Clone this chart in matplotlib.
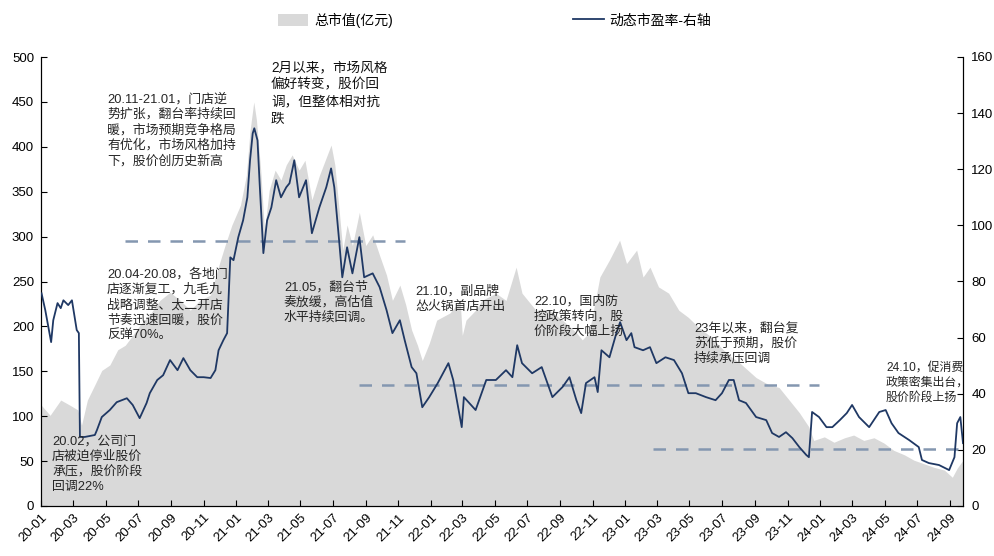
import matplotlib
matplotlib.use("Agg")
import matplotlib.pyplot as plt
import pandas as pd
from matplotlib.patches import Patch
from matplotlib.lines import Line2D

plt.rcParams['font.family'] = ['Liberation Sans', 'Noto Sans CJK SC', 'DejaVu Sans']
plt.rcParams['axes.unicode_minus'] = False

# ---- market cap (left axis, 亿元) ----
cap_dates = ["2020-01-02","2020-01-18","2020-02-07","2020-02-25","2020-03-10","2020-03-17","2020-03-28",
    "2020-04-11","2020-04-24","2020-05-09","2020-05-24","2020-06-07","2020-06-21","2020-07-04","2020-07-23",
    "2020-08-11","2020-08-30","2020-09-18","2020-10-07","2020-10-25","2020-11-14","2020-11-27","2020-12-11",
    "2020-12-24","2021-01-09","2021-01-20","2021-01-27","2021-02-03","2021-02-08","2021-02-16","2021-02-23",
    "2021-03-04","2021-03-15","2021-03-26","2021-04-05","2021-04-16","2021-04-29","2021-05-10","2021-05-23",
    "2021-06-06","2021-06-17","2021-06-28","2021-07-05","2021-07-13","2021-07-20","2021-07-28","2021-08-07",
    "2021-08-20","2021-09-01","2021-09-14","2021-09-27","2021-10-10","2021-10-21","2021-11-04","2021-11-15",
    "2021-11-26","2021-12-07","2021-12-16","2021-12-29","2022-01-12","2022-02-06","2022-02-25","2022-03-01",
    "2022-03-08","2022-03-26","2022-04-07","2022-05-03","2022-05-22","2022-06-10","2022-06-21","2022-07-17",
    "2022-08-11","2022-09-05","2022-10-01","2022-10-12","2022-10-25","2022-11-14","2022-12-02","2022-12-21",
    "2023-01-03","2023-01-22","2023-02-03","2023-02-16","2023-03-04","2023-03-23","2023-04-11","2023-04-29",
    "2023-05-18","2023-06-07","2023-06-25","2023-07-14","2023-08-02","2023-09-03","2023-09-27","2023-10-16",
    "2023-11-04","2023-11-23","2023-12-11","2023-12-20","2024-01-09","2024-01-27","2024-02-16","2024-03-04",
    "2024-03-23","2024-04-11","2024-04-30","2024-05-18","2024-06-07","2024-06-25","2024-07-14","2024-08-02",
    "2024-08-21","2024-09-05","2024-09-14","2024-09-25"]
cap_values = [112, 101, 118, 112, 107, 90, 118,
    135, 151, 157, 174, 179, 190, 201, 213,
    229, 238, 229, 218, 229, 235, 263, 290,
    313, 335, 368, 418, 450, 430, 374, 307,
    352, 374, 363, 380, 391, 374, 385, 341,
    368, 385, 402, 380, 330, 285, 313, 290,
    327, 290, 302, 279, 257, 229, 246, 224,
    196, 179, 162, 181, 207, 215, 229, 190,
    207, 218, 229, 237, 229, 266, 237, 218,
    218, 207, 193, 185, 193, 255, 274, 296,
    270, 285, 255, 266, 244, 237, 218, 210,
    199, 190, 179, 168, 160, 143, 135, 132,
    118, 104, 88, 73, 77, 71, 76, 79,
    73, 76, 70, 62, 57, 51, 47, 43,
    40, 32, 42, 51]

# ---- dynamic PE (right axis) ----
pe_dates = ["2020-01-02","2020-01-09","2020-01-20","2020-01-24","2020-02-01","2020-02-07","2020-02-12",
    "2020-02-21","2020-02-28","2020-03-08","2020-03-12","2020-03-14","2020-03-23","2020-04-11","2020-04-15",
    "2020-04-24","2020-05-09","2020-05-22","2020-06-10","2020-06-21","2020-07-04","2020-07-17","2020-07-23",
    "2020-08-06","2020-08-17","2020-08-30","2020-09-13","2020-09-24","2020-10-07","2020-10-20","2020-11-01",
    "2020-11-14","2020-11-23","2020-11-29","2020-12-08","2020-12-15","2020-12-21","2020-12-27","2021-01-05",
    "2021-01-14","2021-01-22","2021-01-27","2021-02-01","2021-02-04","2021-02-10","2021-02-14","2021-02-21",
    "2021-02-28","2021-03-08","2021-03-17","2021-03-26","2021-04-05","2021-04-11","2021-04-20","2021-04-29",
    "2021-05-12","2021-05-23","2021-06-06","2021-06-19","2021-06-28","2021-07-04","2021-07-13","2021-07-19",
    "2021-07-28","2021-08-07","2021-08-20","2021-08-29","2021-09-14","2021-09-27","2021-10-10","2021-10-21",
    "2021-11-04","2021-11-13","2021-11-26","2021-12-05","2021-12-16","2021-12-29","2022-01-14","2022-02-03",
    "2022-02-12","2022-02-28","2022-03-04","2022-03-26","2022-04-15","2022-05-03","2022-05-22","2022-06-03",
    "2022-06-12","2022-06-21","2022-07-10","2022-07-28","2022-08-17","2022-09-05","2022-09-18","2022-10-01",
    "2022-10-10","2022-10-19","2022-11-04","2022-11-10","2022-11-17","2022-12-02","2022-12-15","2022-12-22",
    "2023-01-03","2023-01-12","2023-01-18","2023-02-03","2023-02-16","2023-02-28","2023-03-17","2023-04-02",
    "2023-04-17","2023-04-29","2023-05-13","2023-06-01","2023-06-19","2023-07-01","2023-07-14","2023-07-23",
    "2023-08-02","2023-08-15","2023-09-03","2023-09-22","2023-10-03","2023-10-16","2023-10-29","2023-11-10",
    "2023-11-23","2023-12-06","2023-12-11","2023-12-17","2023-12-30","2024-01-13","2024-01-24","2024-02-07",
    "2024-02-20","2024-03-01","2024-03-14","2024-04-02","2024-04-21","2024-05-03","2024-05-14","2024-05-27",
    "2024-06-16","2024-07-04","2024-07-10","2024-07-23","2024-08-11","2024-08-30","2024-09-09","2024-09-14",
    "2024-09-20","2024-09-25"]
pe_values = [75.8, 69.8, 58.4, 66.2, 72.3, 70.5, 73.3,
    71.6, 73.3, 62.7, 61.6, 24.6, 24.6, 25.3, 27.1,
    31.7, 34.2, 37.0, 38.4, 36.0, 31.3, 36.7, 40.2,
    44.9, 46.6, 52.0, 48.4, 52.7, 48.4, 45.9, 45.9,
    45.6, 48.4, 55.5, 59.1, 61.6, 88.6, 87.6, 95.8,
    101.8, 110.0, 123.2, 132.8, 134.6, 130.3, 115.0, 90.1,
    101.8, 106.4, 116.1, 110.0, 113.6, 115.0, 123.2, 110.0,
    116.1, 97.2, 106.4, 113.6, 120.3, 113.6, 94.7, 81.5,
    92.2, 82.9, 95.8, 81.5, 82.9, 78.0, 69.8, 61.6,
    66.2, 59.1, 49.5, 47.3, 35.2, 38.8, 43.8, 50.9,
    44.9, 28.1, 38.8, 34.2, 44.9, 44.9, 48.4, 45.9,
    57.3, 50.9, 47.3, 49.5, 38.8, 42.4, 45.9, 37.7,
    33.1, 43.8, 45.9, 40.6, 55.5, 53.0, 61.6, 65.5,
    59.1, 61.6, 56.6, 55.5, 56.6, 50.9, 53.0, 52.0,
    47.3, 40.2, 40.2, 38.8, 37.7, 40.2, 44.9, 44.9,
    37.7, 36.7, 31.7, 30.6, 26.0, 24.6, 26.3, 24.2,
    21.0, 18.2, 17.4, 33.5, 31.7, 28.1, 28.1, 30.6,
    33.1, 36.0, 31.7, 28.1, 33.5, 34.2, 29.5, 26.0,
    23.5, 21.0, 16.4, 15.3, 14.6, 12.8, 17.4, 29.5,
    31.7, 22.4]

# ---- reference (average) PE levels, dashed ----
ref_levels = [94.3, 43.2, 20.3]
ref_starts = ["2020-06-06", "2021-08-20", "2023-02-21"]
ref_ends = ["2021-11-13", "2023-12-30", "2024-09-22"]

# ---- annotations ----
notes = [
    "20.02，公司门\n店被迫停业股价\n承压，股价阶段\n回调22%",
    "20.04-20.08，各地门\n店逐渐复工，九毛九\n战略调整、太二开店\n节奏迅速回暖，股价\n反弹70%。",
    "20.11-21.01，门店逆\n势扩张，翻台率持续回\n暖，市场预期竞争格局\n有优化，市场风格加持\n下，股价创历史新高",
    "2月以来，市场风格\n偏好转变，股价回\n调，但整体相对抗\n跌",
    "21.05，翻台节\n奏放缓，高估值\n水平持续回调。",
    "21.10，副品牌\n怂火锅首店开出",
    "22.10，国内防\n控政策转向，股\n价阶段大幅上扬",
    "23年以来，翻台复\n苏低于预期，股价\n持续承压回调",
    "24.10，促消费\n政策密集出台，\n股价阶段上扬",
]
# text anchor (left, top) in figure pixels
note_pos = [(52, 436), (107, 268), (107, 93), (271, 60), (284, 281),
            (415, 285), (534, 295), (694, 322), (886, 362)]

W, H = 995, 556
fig = plt.figure(figsize=(W / 100, H / 100), dpi=100)
ax = fig.add_axes([41 / W, 1 - 506 / H, (963 - 41) / W, (506 - 57) / H])
ax2 = ax.twinx()

cd = pd.to_datetime(cap_dates)
pdx = pd.to_datetime(pe_dates)

gray = '#d9d9d9'
navy = '#1f3864'
dash_c = '#8497b0'

ax.fill_between(cd, 0, cap_values, color=gray, linewidth=0, zorder=1)
ax.set_ylim(0, 500)
ax.set_yticks(range(0, 501, 50))
ax2.set_ylim(0, 160)
ax2.set_yticks(range(0, 161, 20))

for lv, s, e in zip(ref_levels, ref_starts, ref_ends):
    ax2.plot(pd.to_datetime([s, e]), [lv, lv], color=dash_c, lw=1.8,
             dashes=(5, 4), zorder=2)
ax2.plot(pdx, pe_values, color=navy, lw=1.3, zorder=3)

ax.set_xlim(pd.Timestamp("2020-01-01"), pd.Timestamp("2024-09-25"))
ticks = pd.date_range("2020-01-01", "2024-09-01", freq="2MS")
ax.set_xticks(ticks)
ax.set_xticklabels([t.strftime("%y-%m") for t in ticks], rotation=45,
                   ha='right', rotation_mode='anchor', fontsize=9)

for a in (ax, ax2):
    a.tick_params(direction='in', length=4, width=0.8, labelsize=9.5, colors='black')
    a.spines['top'].set_visible(False)
ax.tick_params(axis='x', pad=4)
ax.tick_params(axis='y', pad=5)
ax2.tick_params(axis='y', pad=6)
ax2.patch.set_visible(False)

for txt, (px, py) in zip(notes, note_pos):
    big = txt.startswith("2月")
    small = txt.startswith("24.10")
    fig.text(px / W, 1 - py / H, txt,
             fontsize=9.8 if big else (8.6 if small else 9.3),
             color='#111111' if big else '#262626',
             va='top', ha='left', linespacing=1.3, zorder=5)

handles = [Patch(facecolor=gray, edgecolor='none'), Line2D([], [], color=navy, lw=1.3)]
fig.legend(handles, ["总市值(亿元)", "动态市盈率-右轴"], loc='upper center',
           bbox_to_anchor=(0.497, 1.0), ncol=2, frameon=False, fontsize=10,
           handlelength=2.2, handleheight=0.9, columnspacing=13, handletextpad=0.4)

fig.savefig("out.png", dpi=100)
